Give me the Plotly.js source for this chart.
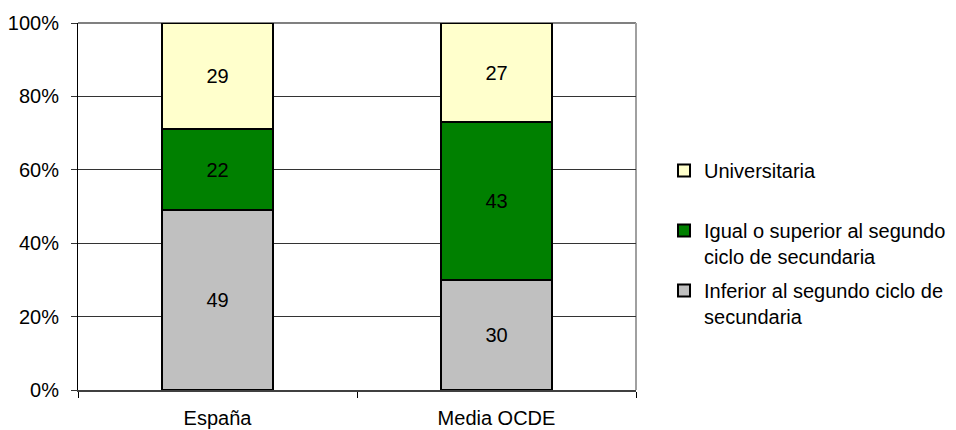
<!DOCTYPE html>
<html>
<head>
<meta charset="utf-8">
<script src="https://cdn.plot.ly/plotly-3.0.1.min.js"></script>
<style>html,body{margin:0;padding:0;background:#fff;}#chart{width:956px;height:430px;}</style>
</head>
<body>
<div id="chart"></div>
<script>
var categories = ["España", "Media OCDE"];
var inferior = [49, 30];
var igual = [22, 43];
var universitaria = [29, 27];
var seriesNames = ["Inferior al segundo ciclo de<br>secundaria", "Igual o superior al segundo<br>ciclo de secundaria", "Universitaria<br>\u00a0"];
var yTickVals = [0, 20, 40, 60, 80, 100];
var yTickText = ["0%", "20%", "40%", "60%", "80%", "100%"];

var FONT = "Liberation Sans, Arial, sans-serif";

function bar(vals, name, color, rank) {
  return {
    type: "bar", x: categories, y: vals, name: name,
    legendgroup: "g" + rank, legendrank: rank,
    text: vals.map(String), textposition: "inside", insidetextanchor: "middle",
    textfont: {family: FONT, size: 20, color: "#000"},
    marker: {color: color, line: {color: "#000", width: 2}},
    hoverinfo: "none"
  };
}

var data = [
  bar(inferior, seriesNames[0], "#C0C0C0", 3),
  bar(igual, seriesNames[1], "#008000", 2),
  bar(universitaria, seriesNames[2], "#FFFFCC", 1)
];

var layout = {
  width: 956, height: 430,
  margin: {l: 78, r: 320, t: 23, b: 40, pad: 0, autoexpand: false},
  paper_bgcolor: "#fff", plot_bgcolor: "#fff",
  barmode: "stack", bargap: 0.6,
  font: {family: FONT, size: 20, color: "#000"},
  xaxis: {
    type: "category", tickson: "boundaries", ticks: "outside", ticklen: 6, tickcolor: "#000",
    ticklabelstandoff: 9,
    showline: true, linecolor: "#404040", linewidth: 2, showgrid: false, zeroline: false,
    tickfont: {size: 20}, fixedrange: true, automargin: false
  },
  yaxis: {
    range: [0, 100], tickvals: yTickVals, ticktext: yTickText,
    ticks: "outside", ticklen: 6, tickcolor: "#333", ticklabelstandoff: 8,
    showline: true, linecolor: "#000", linewidth: 1,
    showgrid: true, gridcolor: "#333", gridwidth: 1, zeroline: false,
    tickfont: {size: 20}, fixedrange: true, automargin: false
  },
  shapes: [
    {type: "line", xref: "paper", yref: "paper", x0: 0, x1: 1, y0: 1, y1: 1, line: {color: "#808080", width: 2}, layer: "between"},
    {type: "line", xref: "paper", yref: "paper", x0: 1, x1: 1, y0: 0, y1: 1, line: {color: "#A0A0A0", width: 2}, layer: "between"}
  ],
  showlegend: true,
  legend: {
    x: 1.0502, xanchor: "left", y: 0.651, yanchor: "top",
    traceorder: "grouped", tracegroupgap: 5, valign: "top",
    font: {size: 20}, itemwidth: 30, bgcolor: "rgba(0,0,0,0)"
  }
};

Plotly.newPlot("chart", data, layout, {displayModeBar: false, staticPlot: true});
</script>
</body>
</html>
